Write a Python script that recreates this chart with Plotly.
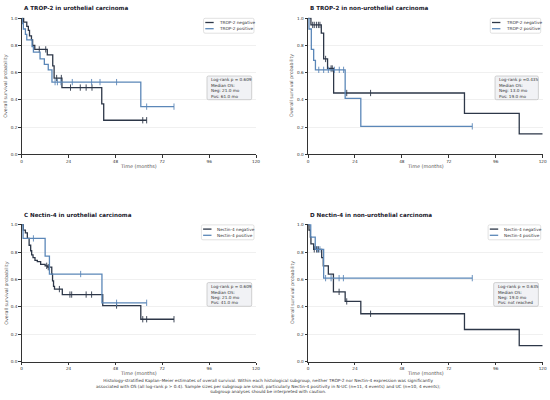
import plotly.graph_objects as go

# ---------------- data ----------------
TIME_TICKS = [0, 24, 48, 72, 96, 120]
SURV_TICKS = [0.0, 0.2, 0.4, 0.6, 0.8, 1.0]

# Panel A: TROP-2 in urothelial carcinoma
A_neg_t = [0, 1, 2.6, 3.4, 4, 5, 5.6, 6.7, 13.1, 15.9, 16.6, 20.6, 41, 42]
A_neg_s = [1.0, 0.97, 0.94, 0.91, 0.87, 0.84, 0.80, 0.77, 0.73, 0.65, 0.56, 0.49, 0.37, 0.25]
A_neg_end = 64
A_neg_cens = [9, 12.3, 17.9, 20.3, 25, 30, 33, 36, 62, 64]
A_pos_t = [0, 0.3, 0.85, 1.9, 2.6, 5.3, 6, 9.4, 11.6, 13.6, 15.5, 61]
A_pos_s = [1.0, 0.96, 0.92, 0.88, 0.84, 0.79, 0.75, 0.70, 0.66, 0.62, 0.53, 0.35]
A_pos_end = 78
A_pos_cens = [17.1, 18.3, 20.1, 25.9, 35.8, 40.1, 48.6, 64, 78]

# Panel B: TROP-2 in non-urothelial carcinoma
B_neg_t = [0, 1.5, 6.8, 8, 10, 13.1, 80, 108]
B_neg_s = [1.0, 0.95, 0.89, 0.70, 0.63, 0.45, 0.30, 0.15]
B_neg_end = 120
B_neg_cens = [2.4, 3.2, 4.3, 5.3, 6.1, 9, 11.8, 12.4, 19.8, 32]
B_pos_t = [0, 0.5, 1.7, 2.9, 3.8, 19, 27]
B_pos_s = [1.0, 0.92, 0.77, 0.69, 0.62, 0.41, 0.205]
B_pos_end = 84
B_pos_cens = [5.5, 8, 10.4, 13.5, 16, 18.2, 84]

# Panel C: Nectin-4 in urothelial carcinoma
C_neg_t = [0, 0.85, 1.9, 2.9, 3.8, 4.6, 5.1, 5.8, 6.8, 8, 9.7, 12, 13.3, 15.4, 15.8, 16.3, 16.8, 20.8, 41.5, 61]
C_neg_s = [1.0, 0.96, 0.94, 0.90, 0.85, 0.81, 0.78, 0.76, 0.74, 0.73, 0.71, 0.70, 0.69, 0.64, 0.59, 0.55, 0.53, 0.49, 0.41, 0.31]
C_neg_end = 78
C_neg_cens = [12.8, 13.6, 19.3, 24.7, 25.6, 33, 35.8, 48.6, 62, 64, 78]
C_pos_t = [0, 0.7, 12, 14.2, 41.1]
C_pos_s = [1.0, 0.90, 0.77, 0.64, 0.43]
C_pos_end = 64
C_pos_cens = [6, 30.2, 48.6, 64]

# Panel D: Nectin-4 in non-urothelial carcinoma
D_neg_t = [0, 0.5, 1.2, 1.5, 2.9, 7, 7.8, 10.4, 13, 19, 27, 80, 108]
D_neg_s = [1.0, 0.96, 0.91, 0.86, 0.82, 0.76, 0.70, 0.64, 0.51, 0.44, 0.35, 0.235, 0.118]
D_neg_end = 120
D_neg_cens = [3.2, 4.4, 5.3, 15.9, 19.8, 32]
D_pos_t = [0, 1.4, 3.7, 8]
D_pos_s = [1.0, 0.91, 0.82, 0.61]
D_pos_end = 84
D_pos_cens = [4.9, 6.1, 9, 11.8, 15.9, 18.1, 84]

titles = ["A TROP-2 in urothelial carcinoma", "B TROP-2 in non-urothelial carcinoma",
          "C Nectin-4 in urothelial carcinoma", "D Nectin-4 in non-urothelial carcinoma"]
neg_labels = ["TROP-2 negative", "TROP-2 negative", "Nectin-4 negative", "Nectin-4 negative"]
pos_labels = ["TROP-2 positive", "TROP-2 positive", "Nectin-4 positive", "Nectin-4 positive"]
logrank_text = ["Log-rank p = 0.609", "Log-rank p =0.435", "Log-rank p = 0.609", "Log-rank p = 0.635"]
median_neg = ["21.0 mo", "13.0 mo", "21.0 mo", "19.0 mo"]
median_pos = ["61.0 mo", "19.0 mo", "41.0 mo", "not reached"]
X_TITLE = "Time (months)"
Y_TITLE = "Overall survival probability"

caption = ("Histology-stratified Kaplan–Meier estimates of overall survival. Within each histological subgroup, "
           "neither TROP-2 nor Nectin-4 expression was significantly<br>"
           "associated with OS (all log-rank p &gt; 0.4). Sample sizes per subgroup are small, particularly "
           "Nectin-4 positivity in N-UC (n=11, 4 events) and UC (n=10, 4 events);<br>"
           "subgroup analyses should be interpreted with caution.")

panels = [
    (A_neg_t, A_neg_s, A_neg_end, A_neg_cens, A_pos_t, A_pos_s, A_pos_end, A_pos_cens),
    (B_neg_t, B_neg_s, B_neg_end, B_neg_cens, B_pos_t, B_pos_s, B_pos_end, B_pos_cens),
    (C_neg_t, C_neg_s, C_neg_end, C_neg_cens, C_pos_t, C_pos_s, C_pos_end, C_pos_cens),
    (D_neg_t, D_neg_s, D_neg_end, D_neg_cens, D_pos_t, D_pos_s, D_pos_end, D_pos_cens),
]

# ---------------- styling ----------------
W, H = 550, 400
DARK = "#2d3748"
BLUE = "#5b87b8"
FONT = "DejaVu Sans"
FS = 4.2  # base font size (px)

# plot areas in pixels: (left, right, top, bottom)
boxes = [(21.7, 256.0, 17.7, 154.3), (308.0, 542.7, 17.7, 154.3),
         (21.7, 256.0, 224.3, 361.7), (308.0, 542.7, 224.3, 361.7)]

# approximate DejaVu Sans advance widths (em) to size the boxes
CW = {' ': .318, '-': .361, '.': .318, ':': .337, '=': .838, 'L': .557, 'M': .863, 'N': .748, 'O': .787,
      'P': .603, 'R': .695, 'T': .611, 'a': .613, 'c': .550, 'd': .635, 'e': .615, 'g': .635, 'h': .634,
      'i': .278, 'k': .579, 'm': .974, 'n': .634, 'o': .612, 'p': .635, 'r': .411, 's': .521, 't': .392,
      'v': .592}


def text_w(s, fs):
    return fs * sum(CW.get(ch, .636 if ch.isdigit() else .6) for ch in s)


def px(x):
    return x / W


def py(y):
    return 1 - y / H


def rounded_rect(x0, y0, x1, y1, r=1.5):
    X0, X1 = px(x0), px(x1)
    Y0, Y1 = py(y0), py(y1)  # Y0 top (larger), Y1 bottom
    rx, ry = r / W, r / H
    return (f"M {X0 + rx},{Y0} L {X1 - rx},{Y0} Q {X1},{Y0} {X1},{Y0 - ry} "
            f"L {X1},{Y1 + ry} Q {X1},{Y1} {X1 - rx},{Y1} L {X0 + rx},{Y1} "
            f"Q {X0},{Y1} {X0},{Y1 + ry} L {X0},{Y0 - ry} Q {X0},{Y0} {X0 + rx},{Y0} Z")


def step_value(ts, ss, t):
    v = ss[0]
    for ti, si in zip(ts, ss):
        if ti <= t:
            v = si
    return v


def add_text(x, y, text, size=FS, color="#333333", xanchor="left", yanchor="middle", **kw):
    fig.add_annotation(x=px(x), y=py(y), xref="paper", yref="paper", xanchor=xanchor, yanchor=yanchor,
                       text=text, showarrow=False, font=dict(size=size, color=color, family=FONT), **kw)


fig = go.Figure()
for i, (nt, ns, nend, ncens, pt, ps, pend, pcens) in enumerate(panels):
    k = "" if i == 0 else str(i + 1)
    xa, ya = "x" + k, "y" + k
    for ts, ss, end, cens, col, lab in [(nt, ns, nend, ncens, DARK, neg_labels[i]),
                                         (pt, ps, pend, pcens, BLUE, pos_labels[i])]:
        fig.add_trace(go.Scatter(
            x=list(ts) + [end], y=list(ss) + [ss[-1]], mode="lines",
            line=dict(color=col, width=1.3, shape="hv"), name=lab, showlegend=False,
            xaxis=xa, yaxis=ya, cliponaxis=False))
        fig.add_trace(go.Scatter(
            x=cens, y=[step_value(ts, ss, c) for c in cens], mode="markers",
            marker=dict(symbol="line-ns", size=4.5, line=dict(color=col, width=0.9)),
            showlegend=False, xaxis=xa, yaxis=ya, cliponaxis=False))

    l, r, t, b = boxes[i]
    axis_common = dict(showline=True, linecolor="#333333", linewidth=1, ticks="outside",
                       ticklen=2.5, tickwidth=0.8, tickcolor="#333333", automargin=False,
                       tickfont=dict(size=FS, color="#333333", family=FONT), zeroline=False)
    fig.update_layout(**{
        "xaxis" + k: dict(domain=[px(l), px(r)], anchor=ya, range=[0, 120], tickvals=TIME_TICKS,
                          showgrid=False, **axis_common),
        "yaxis" + k: dict(domain=[py(b), py(t)], anchor=xa, range=[0, 1.003], tickvals=SURV_TICKS,
                          tickformat=".1f", showgrid=True, gridcolor="#f0f0f0", gridwidth=0.6,
                          **axis_common),
    })
    # axis titles
    add_text((l + r) / 2, b + 11.6, X_TITLE, size=4.9, color="#555555", xanchor="center")
    add_text(l - 16, (t + b) / 2, Y_TITLE, size=4.7, color="#555555", xanchor="center", textangle=-90)
    # panel title
    add_text(l, t - 9.4, "<b>" + titles[i] + "</b>", size=5.6, color="#1a202c")

    # legend box (drawn)
    lw = max(text_w(neg_labels[i], FS), text_w(pos_labels[i], FS))
    lx1 = r - 2
    lx0 = lx1 - (1.7 + 8.4 + 3.4 + lw + 1.7)
    fig.add_shape(type="path", path=rounded_rect(lx0, t + 0.6, lx1, t + 15.5), xref="paper", yref="paper",
                  fillcolor="rgba(255,255,255,0.85)", line=dict(color="#cccccc", width=0.6), layer="above")
    for row, (lab, col) in enumerate([(neg_labels[i], DARK), (pos_labels[i], BLUE)]):
        yy = t + 4.8 + row * 6.2
        fig.add_shape(type="line", x0=px(lx0 + 1.7), x1=px(lx0 + 10.1), y0=py(yy), y1=py(yy),
                      xref="paper", yref="paper", line=dict(color=col, width=1.3), layer="above")
        add_text(lx0 + 13.5, yy, lab)

    # statistics box
    sw = max(text_w(logrank_text[i], FS), text_w("Pos: " + median_pos[i], FS))
    sx1 = r - 4.3
    sx0 = sx1 - sw - 4.0
    fig.add_shape(type="path", path=rounded_rect(sx0, t + 58.3, sx1, t + 82.0), xref="paper", yref="paper",
                  fillcolor="#f1f2f5", line=dict(color="#b5b5b5", width=0.6), layer="above")
    lines = [logrank_text[i], "Median OS:", "Neg: " + median_neg[i], "Pos: " + median_pos[i]]
    for yy, txt in zip([t + 62.2, t + 68.0, t + 73.2, t + 78.4], lines):
        add_text(sx0 + 2.0, yy, txt)

add_text(268, 375.5, caption, size=4.25, xanchor="center", yanchor="top", align="center")

fig.update_layout(width=W, height=H, margin=dict(l=0, r=0, t=0, b=0), showlegend=False,
                  paper_bgcolor="white", plot_bgcolor="white", font=dict(family=FONT))

fig.write_html("out.html", config={"displayModeBar": False})

# remove the default page margin so the 550x400 figure fills the window exactly
with open("out.html", "r", encoding="utf-8") as f:
    html = f.read()
html = html.replace("<head>", "<head><style>html,body{margin:0;padding:0;overflow:hidden;}</style>", 1)
with open("out.html", "w", encoding="utf-8") as f:
    f.write(html)
